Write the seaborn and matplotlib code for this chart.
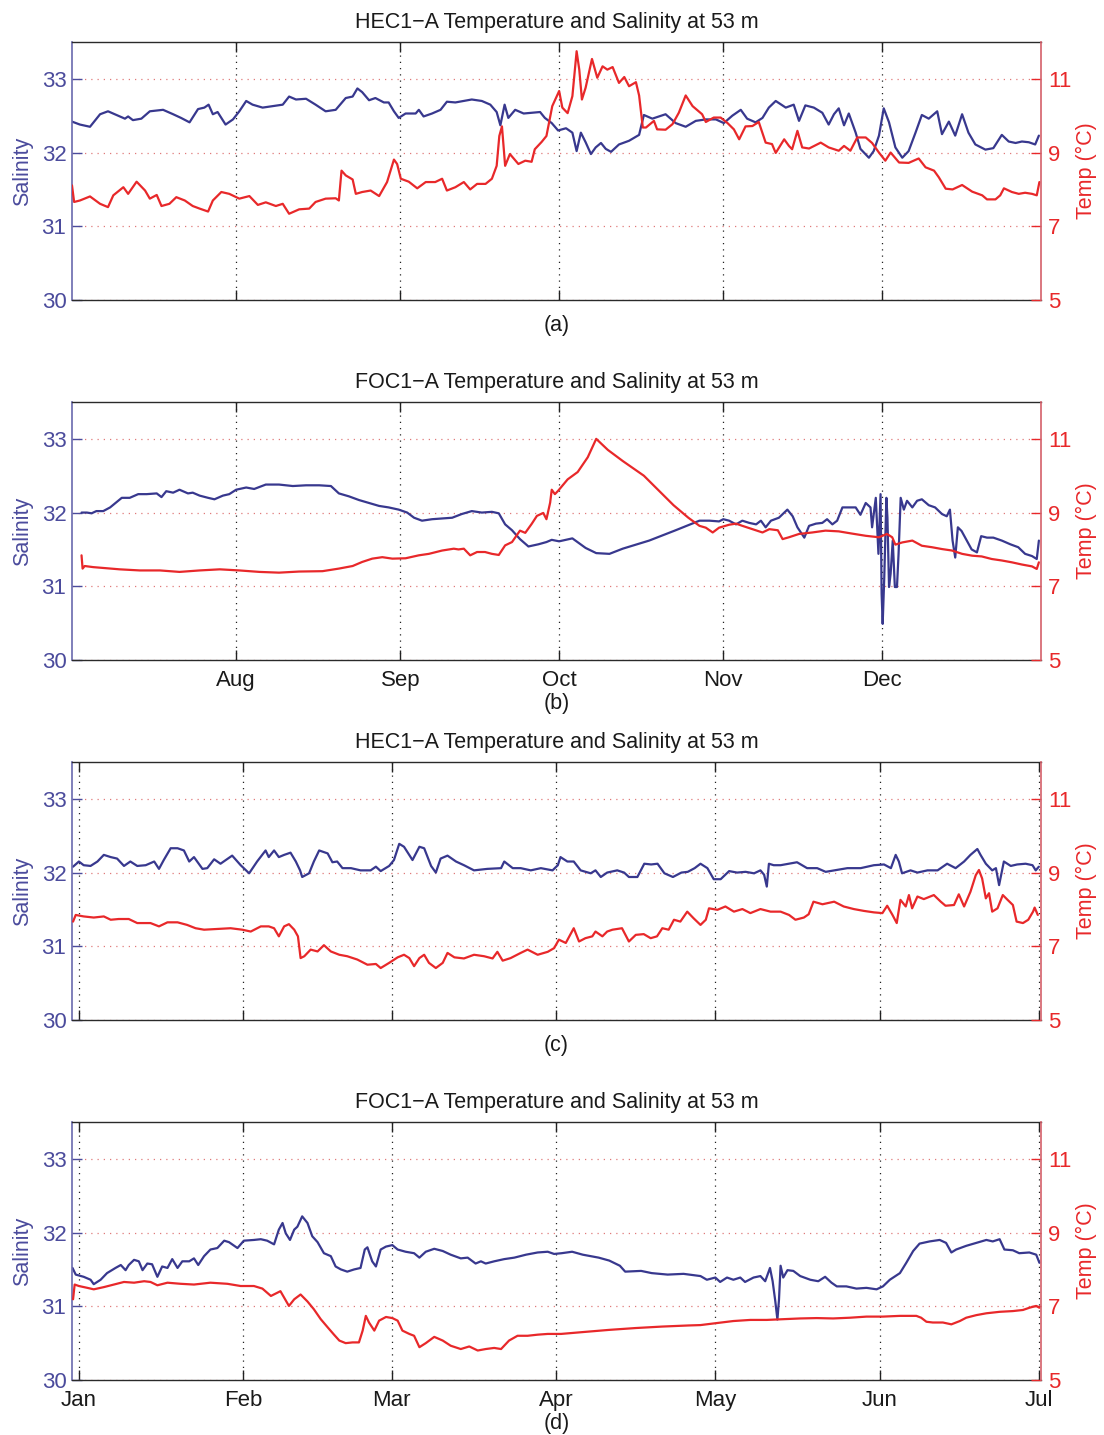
import numpy as np
import pandas as pd
import matplotlib
matplotlib.use("Agg")
import matplotlib.pyplot as plt
import matplotlib.dates as mdates
import seaborn as sns

# ---------------- data: (day offset, value) ----------------
# Panels (a),(b): day 0 = 1 Jul ; panels (c),(d): day 0 = 1 Jan
A_SAL = [(0,32.42),(1.5,32.38),(3.4,32.35),(5.3,32.52),(6.8,32.56),(8.4,32.51),(10,32.46),(10.6,32.49),(11.5,32.44),(13.1,32.46),(14.7,32.56),(17.2,32.58),(19.1,32.52),(20.6,32.47),(22.2,32.41),(23.8,32.59),(25,32.61),(25.8,32.65),(26.6,32.52),(27.5,32.55),(29,32.38),(30.4,32.45),(31.6,32.56),(32.9,32.70),(34.1,32.65),(36,32.61),(37.9,32.63),(39.8,32.65),(41,32.76),(42.3,32.72),(44.2,32.73),(46,32.65),(47.9,32.56),(49.8,32.58),(51.7,32.74),(53,32.76),(53.9,32.87),(54.8,32.82),(56.1,32.71),(57.3,32.74),(58.9,32.68),(59.8,32.68),(60.8,32.56),(61.7,32.47),(63,32.53),(64.9,32.53),(65.5,32.58),(66.4,32.49),(68,32.53),(69.6,32.58),(70.8,32.69),(72.4,32.68),(74,32.70),(75.5,32.72),(77.4,32.70),(79,32.65),(80.2,32.55),(80.9,32.37),(81.7,32.65),(82.4,32.47),(83.7,32.58),(85.3,32.53),(86.8,32.54),(88.4,32.55),(89.3,32.47),(90.6,32.40),(91.8,32.30),(93.3,32.33),(94.5,32.27),(95.3,32.02),(96.1,32.27),(97,32.14),(98,31.98),(98.9,32.07),(99.9,32.13),(100.8,32.05),(101.8,32.01),(103.3,32.11),(105.2,32.16),(107.1,32.24),(108,32.51),(109.6,32.46),(112.1,32.52),(114,32.40),(115.9,32.35),(117.8,32.43),(119.7,32.45),(121.6,32.45),(123.1,32.40),(124.7,32.50),(126.3,32.58),(127.5,32.46),(129.1,32.41),(130.4,32.47),(131.6,32.61),(132.9,32.70),(134.8,32.61),(136.3,32.65),(137.3,32.43),(138.5,32.64),(140.1,32.61),(141.7,32.54),(142.9,32.38),(143.9,32.52),(144.8,32.60),(145.8,32.37),(146.7,32.53),(148,32.27),(148.9,32.05),(150.5,31.93),(151.4,32.02),(152.4,32.23),(153.3,32.60),(154.3,32.41),(155.5,32.07),(156.8,31.93),(158,32.02),(159.3,32.27),(160.5,32.51),(161.8,32.46),(163.4,32.56),(164.3,32.25),(165.6,32.42),(166.8,32.23),(168.1,32.52),(169.3,32.27),(170.6,32.11),(172.5,32.04),(174,32.06),(175.6,32.24),(176.9,32.15),(178.2,32.13),(179.4,32.15),(180.7,32.14),(181.9,32.11),(182.6,32.23)]

A_TMP = [(0,8.11),(0.4,7.66),(1.5,7.70),(3.4,7.81),(5.3,7.61),(6.8,7.52),(7.8,7.84),(9.7,8.06),(10.6,7.88),(12.2,8.21),(13.8,7.97),(14.7,7.75),(16,7.85),(16.9,7.55),(18.4,7.61),(19.7,7.79),(21.3,7.70),(22.8,7.55),(24.1,7.48),(25.7,7.40),(26.6,7.70),(28.2,7.93),(29.7,7.88),(31.6,7.75),(33.5,7.82),(35.1,7.58),(36.6,7.65),(38.5,7.55),(39.8,7.61),(41,7.34),(42.9,7.46),(44.8,7.48),(46,7.66),(47.9,7.75),(49.8,7.76),(50.4,7.70),(50.9,8.51),(51.7,8.38),(53,8.27),(53.6,7.88),(54.8,7.93),(56.4,7.97),(58,7.82),(59.5,8.20),(60.8,8.81),(61.4,8.69),(62.1,8.29),(63.6,8.21),(65.2,8.03),(66.8,8.20),(68.6,8.20),(69.9,8.29),(70.8,7.97),(72.4,8.06),(74,8.20),(75.2,8.00),(76.5,8.15),(78.1,8.15),(79.3,8.29),(80.2,8.64),(80.7,9.45),(81.2,9.71),(81.8,8.64),(82.7,8.96),(84.3,8.69),(85.6,8.78),(86.8,8.75),(87.4,9.09),(88.7,9.29),(89.6,9.45),(90.7,10.26),(92,10.67),(92.6,10.22),(93.6,10.07),(94.5,10.53),(95.3,11.75),(95.8,11.25),(96.3,10.44),(97,10.76),(98.2,11.54),(99.2,11.03),(100.2,11.34),(101.1,11.25),(102.1,11.32),(103.3,10.89),(104.3,11.05),(105.2,10.80),(106.5,10.91),(107.1,10.55),(107.8,9.68),(108.4,9.68),(109.9,9.86),(110.5,9.63),(112.1,9.62),(113.4,9.77),(114.6,10.08),(115.9,10.55),(117.2,10.26),(119,10.04),(119.7,9.83),(121.2,9.95),(122.5,9.95),(123.8,9.80),(125,9.63),(126,9.36),(127.2,9.71),(128.5,9.72),(129.7,9.83),(131,9.27),(132.2,9.23),(132.9,8.99),(134.5,9.36),(135.4,9.18),(136,9.09),(137,9.59),(137.9,9.14),(139.2,9.11),(141.4,9.27),(142.9,9.14),(144.8,9.05),(145.8,9.18),(147,9.05),(148.3,9.41),(149.9,9.41),(151.1,9.26),(152.4,9.00),(153.6,8.78),(154.6,9.00),(156.2,8.73),(158,8.72),(159.9,8.84),(161.2,8.60),(162.8,8.51),(163.7,8.33),(165,8.02),(166.3,8.00),(168.1,8.12),(170,7.94),(171.9,7.84),(172.8,7.73),(174.4,7.73),(175.3,7.84),(176,8.03),(177.5,7.93),(178.8,7.88),(180,7.91),(181.3,7.88),(182.2,7.84),(182.7,8.20)]

B_SAL = [(1.8,32.00),(2.8,32.00),(3.7,31.99),(4.6,32.02),(5.9,32.02),(7.2,32.07),(8.4,32.14),(9.4,32.20),(10.9,32.20),(12.5,32.25),(14.1,32.25),(16,32.26),(16.9,32.21),(17.8,32.29),(19.1,32.27),(20.3,32.31),(21.9,32.26),(22.8,32.27),(24.1,32.23),(25.7,32.20),(26.9,32.18),(28.5,32.23),(29.7,32.25),(31,32.31),(32.9,32.34),(34.4,32.32),(36.6,32.38),(39.1,32.38),(41.7,32.36),(44.2,32.37),(46.7,32.37),(48.9,32.36),(50.4,32.26),(52.3,32.22),(54.2,32.17),(56.1,32.13),(58,32.09),(59.8,32.07),(61.7,32.04),(63.3,32.00),(64.6,31.93),(66.1,31.89),(68,31.91),(69.9,31.92),(71.8,31.93),(73.6,31.98),(75.5,32.02),(77.4,32.00),(79.3,32.01),(80.6,31.99),(81.8,31.84),(83.1,31.76),(84.6,31.64),(86.2,31.54),(88.1,31.57),(89.6,31.60),(90.6,31.63),(92,31.61),(94.5,31.65),(97,31.52),(99,31.45),(101.5,31.44),(104,31.51),(109,31.62),(114,31.76),(118.5,31.89),(120.4,31.89),(122.2,31.88),(123,31.91),(124.1,31.89),(125.4,31.84),(126.6,31.89),(127.9,31.86),(129.2,31.84),(130.1,31.89),(131,31.80),(132,31.89),(133.5,31.93),(135.1,32.04),(136.1,31.95),(137,31.80),(138.3,31.66),(139.2,31.82),(140.5,31.85),(141.7,31.86),(142.6,31.91),(143.6,31.84),(144.5,31.89),(145.5,32.07),(146.7,32.07),(148,32.07),(148.9,31.97),(149.9,32.13),(150.8,32.07),(151.1,31.80),(151.8,32.20),(152.3,31.44),(152.7,32.25),(152.9,30.90),(153.1,30.49),(153.4,31.12),(153.8,32.20),(154,31.93),(154.3,30.99),(154.6,31.17),(155,31.62),(155.4,30.99),(155.8,30.99),(156.1,31.44),(156.5,32.20),(157.1,32.04),(157.7,32.16),(158.7,32.07),(159.6,32.16),(160.5,32.18),(161.8,32.10),(163,32.07),(164.3,31.98),(165.2,31.95),(165.8,32.04),(166.3,31.62),(166.8,31.39),(167.3,31.80),(168,31.75),(169,31.62),(169.9,31.50),(170.9,31.46),(171.7,31.68),(172.8,31.66),(174,31.66),(175.6,31.62),(177.2,31.57),(178.7,31.53),(180,31.44),(181.3,31.41),(182.2,31.37),(182.6,31.62)]

B_TMP = [(1.8,7.84),(2.0,7.48),(2.4,7.55),(4,7.52),(6.5,7.49),(9,7.46),(12.8,7.43),(16.6,7.43),(20.3,7.39),(24.1,7.43),(27.9,7.46),(31.6,7.43),(35.4,7.39),(39.1,7.37),(42.9,7.40),(47.3,7.41),(50.4,7.48),(53,7.55),(54.8,7.66),(56.7,7.75),(58.6,7.79),(60.5,7.75),(63,7.76),(65.5,7.84),(67.4,7.88),(69.9,7.97),(72.1,8.02),(73,8.00),(74,8.02),(75.2,7.84),(76.5,7.93),(78,7.93),(79.3,7.88),(80.6,7.85),(81.8,8.11),(83.1,8.20),(84.6,8.51),(85.6,8.45),(86.8,8.69),(87.8,8.91),(89,8.99),(89.6,8.82),(90.3,9.27),(90.6,9.62),(91.2,9.50),(91.8,9.59),(93.6,9.9),(95.5,10.1),(97.4,10.5),(99,11.0),(101.2,10.7),(104,10.4),(108,10.0),(110.8,9.6),(113.6,9.2),(116.4,8.86),(118.5,8.64),(119.7,8.59),(121,8.46),(122.2,8.59),(124.1,8.67),(125.4,8.70),(126.6,8.64),(128.5,8.55),(130.4,8.46),(131.7,8.55),(133.3,8.52),(134.2,8.28),(135.4,8.33),(137.3,8.42),(139.8,8.46),(142.3,8.51),(144.8,8.49),(147.3,8.43),(149.9,8.37),(152.4,8.33),(153.9,8.42),(154.9,8.33),(155.5,8.13),(156.8,8.19),(158.7,8.24),(160.5,8.10),(162.4,8.06),(164.3,8.01),(166.2,7.97),(168.1,7.88),(170,7.83),(171.8,7.81),(173.7,7.74),(175.6,7.70),(177.5,7.65),(179.4,7.59),(181.3,7.54),(182.2,7.47),(182.6,7.65)]

C_SAL = [(-1.1,32.08),(0,32.15),(0.9,32.10),(2.2,32.09),(3.5,32.15),(4.7,32.24),(6,32.21),(7.2,32.19),(8.5,32.09),(9.7,32.15),(11,32.09),(12.6,32.10),(14.2,32.15),(15.1,32.05),(16,32.17),(17.3,32.33),(18.6,32.33),(19.8,32.30),(20.8,32.15),(21.7,32.21),(22.3,32.15),(23.3,32.05),(24.2,32.06),(25.5,32.18),(26.7,32.12),(28.9,32.23),(30.5,32.10),(32.1,31.99),(33.6,32.15),(35.2,32.30),(35.8,32.21),(36.8,32.30),(37.7,32.21),(38.7,32.24),(39.9,32.27),(40.9,32.15),(41.7,32.03),(42.1,31.94),(43.4,31.99),(44.3,32.15),(45.3,32.30),(46.9,32.26),(47.8,32.14),(48.7,32.15),(49.7,32.06),(51.3,32.06),(53.1,32.03),(55,32.03),(56,32.08),(56.9,32.02),(58.5,32.09),(59.4,32.17),(60.4,32.39),(61.3,32.35),(62.9,32.17),(64.2,32.35),(65.1,32.33),(66.4,32.09),(67.3,32.00),(68.2,32.19),(69.5,32.23),(71.1,32.15),(72.6,32.10),(74.5,32.03),(77,32.05),(79.6,32.06),(80.2,32.15),(81.8,32.06),(83.3,32.06),(85.2,32.03),(87.1,32.06),(89.3,32.03),(90.3,32.10),(90.8,32.21),(92.1,32.15),(93.3,32.15),(94.6,32.03),(96.5,31.99),(97.4,32.03),(98.4,31.94),(99.6,32.00),(101.5,32.03),(102.8,32.00),(103.7,31.94),(105.3,31.94),(106.6,32.12),(107.9,32.11),(109.1,32.12),(110.4,31.99),(112,31.94),(113.6,32.00),(114.8,32.01),(116.1,32.06),(117.2,32.12),(118.5,32.06),(119.7,31.91),(121,31.91),(122.6,32.02),(124.1,32.00),(125.7,32.01),(127.3,31.99),(128.5,32.03),(129.2,31.97),(129.7,31.81),(130.1,32.12),(131,32.10),(132.3,32.10),(133.9,32.12),(135.4,32.14),(137.3,32.06),(139.2,32.06),(140.8,32.01),(142.4,32.03),(144.9,32.06),(147.4,32.06),(149.9,32.10),(151.8,32.11),(153.1,32.06),(154,32.24),(154.6,32.15),(155.2,31.99),(156.8,32.03),(158.1,32.00),(160,32.03),(161.9,32.03),(163.7,32.12),(165.3,32.06),(166.9,32.15),(168.1,32.24),(169.4,32.32),(170,32.24),(171,32.12),(172.2,32.03),(172.9,32.06),(173.5,31.83),(174.4,32.15),(175.7,32.09),(176.9,32.11),(178.5,32.12),(179.8,32.10),(180.4,32.03),(181,32.08)]

C_TMP = [(-1.1,7.67),(-0.6,7.85),(0.9,7.81),(2.8,7.78),(4.7,7.81),(6,7.72),(7.5,7.74),(9.4,7.74),(11,7.63),(13.5,7.63),(15.1,7.54),(16.7,7.65),(18.6,7.65),(20.4,7.58),(22,7.49),(23.6,7.45),(26.1,7.47),(28.6,7.49),(30.8,7.45),(32.4,7.40),(34.3,7.54),(35.8,7.54),(36.8,7.49),(37.7,7.27),(38.7,7.54),(39.6,7.60),(40.6,7.45),(41.3,7.27),(41.8,6.68),(42.5,6.73),(43.7,6.91),(45,6.86),(46.2,7.03),(47.5,6.86),(49.1,6.77),(50.6,6.73),(52.5,6.64),(54.4,6.50),(56,6.52),(56.9,6.41),(58.5,6.55),(60.1,6.70),(61.3,6.77),(62.3,6.68),(63.2,6.46),(64.2,6.68),(65.1,6.77),(66,6.55),(67.3,6.41),(68.6,6.55),(69.5,6.82),(70.8,6.70),(72.6,6.67),(74.5,6.77),(76.4,6.73),(78,6.67),(78.9,6.85),(79.9,6.61),(81.4,6.68),(83.3,6.82),(84.6,6.91),(86.5,6.77),(88.4,6.85),(89.6,6.95),(90.5,7.18),(91.8,7.09),(93.3,7.49),(94.3,7.13),(95.5,7.22),(96.8,7.27),(97.4,7.40),(98.7,7.27),(99.6,7.40),(100.6,7.45),(102.4,7.49),(103.7,7.13),(105,7.31),(106.5,7.33),(107.8,7.22),(109,7.27),(110,7.49),(111.2,7.45),(112.2,7.72),(113.4,7.67),(114.7,7.94),(115.9,7.76),(117.2,7.58),(118.2,7.72),(118.8,8.03),(120.4,7.99),(121.9,8.08),(123.5,7.94),(125.1,8.01),(126.6,7.90),(128.5,8.01),(130.4,7.94),(132.3,7.94),(133.9,7.85),(135.1,7.72),(136.7,7.78),(137.6,7.87),(138.5,8.21),(140.2,8.14),(142.4,8.21),(144.2,8.08),(146.1,8.01),(148,7.96),(149.9,7.92),(151.5,7.90),(152.4,8.10),(153.4,7.85),(154.2,7.63),(154.9,8.26),(155.9,8.08),(156.5,8.39),(157.1,8.03),(158.1,8.35),(159.3,8.28),(161.2,8.39),(162.5,8.21),(163.4,8.10),(165,8.12),(165.9,8.41),(166.9,8.08),(168.1,8.48),(169.1,8.93),(169.7,9.07),(170.3,8.84),(171,8.30),(171.6,8.44),(172.2,7.94),(173.2,8.03),(174.2,8.39),(175.1,8.26),(176.1,8.12),(176.8,7.67),(178,7.63),(179,7.72),(179.9,7.94),(180.2,8.05),(180.8,7.85)]

D_SAL = [(-1.2,31.52),(-0.6,31.43),(0.9,31.40),(2.2,31.36),(2.8,31.30),(4.1,31.36),(5.3,31.45),(6.9,31.52),(7.9,31.56),(8.8,31.49),(9.4,31.56),(10.4,31.63),(11.3,31.61),(12,31.49),(12.9,31.58),(13.8,31.57),(14.8,31.40),(15.7,31.54),(16.7,31.52),(17.6,31.64),(18.6,31.52),(19.5,31.61),(20.8,31.61),(21.7,31.65),(22.5,31.56),(23.6,31.68),(24.8,31.77),(26.1,31.79),(27.4,31.89),(28.3,31.87),(29.9,31.79),(31.1,31.89),(33,31.90),(34.3,31.91),(35.5,31.89),(36.8,31.84),(37.7,32.04),(38.4,32.13),(39,31.99),(39.8,31.90),(40.6,32.04),(41.2,32.08),(42.1,32.22),(43.1,32.13),(44,31.95),(45,31.87),(46.2,31.72),(47.5,31.68),(48.4,31.54),(49.4,31.50),(50.6,31.47),(51.9,31.50),(53.1,31.52),(53.9,31.77),(54.4,31.80),(55.3,31.61),(56,31.54),(56.9,31.77),(57.9,31.81),(59.1,31.83),(60.1,31.77),(61.6,31.74),(63.2,31.72),(64.2,31.66),(65.4,31.74),(67,31.78),(68.6,31.75),(70.1,31.70),(72,31.65),(73.3,31.66),(74.8,31.58),(75.8,31.61),(76.7,31.58),(78.3,31.61),(80.2,31.64),(82.1,31.66),(84.3,31.70),(86.5,31.73),(88.4,31.74),(89.6,31.71),(91,31.72),(93,31.74),(95,31.70),(98,31.66),(100,31.62),(102,31.55),(103,31.47),(106,31.48),(108,31.45),(111,31.43),(114,31.44),(117.2,31.41),(118.4,31.36),(120,31.39),(120.9,31.33),(122.2,31.39),(123.4,31.36),(124.7,31.39),(125.6,31.33),(127.2,31.39),(128.5,31.41),(129.4,31.34),(130.3,31.52),(130.8,31.34),(131.3,31.07),(131.7,30.82),(132,31.09),(132.3,31.55),(132.8,31.39),(133.6,31.49),(134.7,31.48),(136,31.41),(137.9,31.36),(139.4,31.34),(140.7,31.40),(141.9,31.32),(142.9,31.27),(144.7,31.27),(146.6,31.24),(148.5,31.25),(150.4,31.23),(151.6,31.27),(152.9,31.36),(154.8,31.45),(156,31.59),(157.3,31.75),(158.5,31.85),(160.4,31.88),(162.3,31.90),(163.5,31.86),(164.5,31.73),(165.4,31.77),(167.3,31.82),(169.2,31.86),(171.1,31.90),(172.3,31.88),(173.6,31.91),(174.5,31.77),(176.1,31.76),(177.3,31.72),(179.2,31.73),(180.5,31.70),(181.1,31.59)]

D_TMP = [(-1.1,7.19),(-0.8,7.59),(0,7.55),(1.6,7.50),(2.8,7.46),(4.7,7.52),(6.6,7.59),(8.5,7.66),(10.4,7.64),(12.3,7.68),(13.5,7.66),(14.8,7.57),(16.7,7.64),(19.2,7.61),(21.7,7.59),(24.8,7.64),(28,7.61),(30.5,7.55),(33,7.55),(34.6,7.48),(36.2,7.28),(38,7.41),(39.6,7.01),(40.6,7.19),(41.8,7.32),(43.1,7.13),(44.3,6.92),(45.6,6.65),(46.9,6.43),(48.1,6.23),(49.1,6.07),(50.3,6.00),(51.6,6.02),(52.8,6.02),(53.5,6.34),(54.1,6.74),(54.7,6.56),(55.7,6.34),(56.6,6.61),(57.9,6.71),(59.1,6.68),(60.1,6.61),(61,6.34),(62.3,6.25),(63.2,6.20),(64.2,5.89),(65.4,6.00),(67,6.17),(68.6,6.07),(70.1,5.93),(72,5.84),(73.6,5.91),(75.2,5.80),(76.7,5.84),(78.3,5.87),(79.6,5.84),(81.1,6.07),(82.7,6.20),(84.6,6.20),(86.5,6.23),(88.4,6.25),(90.9,6.25),(95,6.30),(100,6.36),(105,6.41),(110,6.45),(115,6.48),(117.2,6.49),(120,6.54),(123.4,6.60),(126.6,6.63),(129.7,6.63),(132.8,6.65),(136,6.67),(139.1,6.68),(142.2,6.67),(145.4,6.69),(148.5,6.72),(151.6,6.72),(154.8,6.74),(157.9,6.74),(158.8,6.69),(159.8,6.58),(161,6.56),(162.9,6.56),(164.5,6.51),(166.1,6.60),(167.3,6.69),(169.2,6.76),(171.1,6.81),(173.6,6.85),(176.1,6.87),(178,6.90),(179.2,6.96),(180.5,7.01),(181.1,6.96)]

TITLES = ["HEC1\u2212A Temperature and Salinity at 53 m",
          "FOC1\u2212A Temperature and Salinity at 53 m",
          "HEC1\u2212A Temperature and Salinity at 53 m",
          "FOC1\u2212A Temperature and Salinity at 53 m"]
TAGS = ["(a)", "(b)", "(c)", "(d)"]
SAL_TICKS = [30, 31, 32, 33]
TMP_TICKS = [5, 7, 9, 11]
MONTHS_JUL_DEC = [8, 9, 10, 11, 12]
MONTHS_JAN_JUL = [1, 2, 3, 4, 5, 6, 7]

# ---------------- style ----------------
sns.set_style("white")
plt.rcParams["font.family"] = ["Liberation Sans", "DejaVu Sans"]

SAL_C = "#38388e"
SAL_TXT = "#4b4b9c"
TMP_C = "#e8282a"
RSPINE = "#d4606a"
FS_TICK = 16
FS_TEXT = 15.5

W, H = 1104, 1435
fig = plt.figure(figsize=(W / 100, H / 100), dpi=100)

left_px, right_px = 72, 1041
tops = [42, 402, 762, 1122]
ax_h = 258
tag_y = [326, 704, 1045, 1423]

panels = [
    (A_SAL, A_TMP, "2010-07-01", (0, 183), False, MONTHS_JUL_DEC),
    (B_SAL, B_TMP, "2010-07-01", (0, 183), True, MONTHS_JUL_DEC),
    (C_SAL, C_TMP, "2011-01-01", (-1.3, 181.4), False, MONTHS_JAN_JUL),
    (D_SAL, D_TMP, "2011-01-01", (-1.3, 181.4), True, MONTHS_JAN_JUL),
]

for i, (sal, tmp, base, xl, show_lbl, months) in enumerate(panels):
    top = tops[i]
    ax = fig.add_axes([left_px / W, 1 - (top + ax_h) / H,
                       (right_px - left_px) / W, ax_h / H])
    b = pd.Timestamp(base)
    ds = pd.DataFrame(sal, columns=["day", "v"])
    ds["date"] = b + pd.to_timedelta(ds["day"], unit="D")
    dt = pd.DataFrame(tmp, columns=["day", "v"])
    dt["date"] = b + pd.to_timedelta(dt["day"], unit="D")

    sns.lineplot(data=ds, x="date", y="v", ax=ax, color=SAL_C, lw=1.6,
                 estimator=None, sort=False, legend=False)
    ax2 = ax.twinx()
    sns.lineplot(data=dt, x="date", y="v", ax=ax2, color=TMP_C, lw=1.6,
                 estimator=None, sort=False, legend=False)

    x0 = b + pd.Timedelta(days=xl[0])
    x1 = b + pd.Timedelta(days=xl[1])
    ax.set_xlim(x0, x1)
    ax.set_ylim(30, 33.5)
    ax2.set_ylim(5, 12)
    ax.set_yticks(SAL_TICKS)
    ax2.set_yticks(TMP_TICKS)

    ax.xaxis.set_major_locator(mdates.MonthLocator(bymonth=months, bymonthday=1))
    ax.xaxis.set_major_formatter(mdates.DateFormatter("%b"))

    ax.grid(False)
    ax2.grid(False)
    ax.grid(axis="x", linestyle=(0, (1, 4)), color="#222222", lw=0.9)
    ax.grid(axis="y", linestyle=(0, (1, 4)), color="#e07a7a", lw=0.9)

    ax.tick_params(axis="x", direction="in", length=7, width=1, top=True,
                   bottom=True, labelbottom=show_lbl, labelsize=FS_TICK,
                   pad=7, color="#222222", labelcolor="#1a1a1a")
    ax.tick_params(axis="y", direction="in", length=7, width=1, left=True,
                   right=False, labelsize=FS_TICK, pad=4, color=SAL_TXT,
                   labelcolor=SAL_TXT)
    ax2.tick_params(axis="y", direction="in", length=7, width=1, right=True,
                    left=False, labelsize=FS_TICK, pad=5, color=TMP_C,
                    labelcolor=TMP_C)

    for s in ("top", "bottom"):
        ax.spines[s].set_color("#2a2a2a")
        ax.spines[s].set_linewidth(1.0)
        ax2.spines[s].set_visible(False)
    ax.spines["left"].set_color("#6a6aae")
    ax.spines["left"].set_linewidth(1.2)
    ax.spines["right"].set_visible(False)
    ax2.spines["left"].set_visible(False)
    ax2.spines["right"].set_color(RSPINE)
    ax2.spines["right"].set_linewidth(1.2)

    ax.set_xlabel("")
    ax.set_ylabel("Salinity", fontsize=FS_TEXT, color=SAL_TXT)
    ax.yaxis.set_label_coords((33 - left_px) / (right_px - left_px), 0.5)
    ax2.set_xlabel("")
    ax2.set_ylabel("Temp (\u00b0C)", fontsize=FS_TEXT, color=TMP_C)
    ax2.yaxis.set_label_coords((1076 - left_px) / (right_px - left_px), 0.5)

    ax.set_title(TITLES[i], fontsize=FS_TEXT, pad=10, color="#1a1a1a")
    ax.text(0.5, (top + ax_h - tag_y[i]) / ax_h, TAGS[i],
            transform=ax.transAxes, ha="center", va="center",
            fontsize=FS_TEXT, color="#1a1a1a")

fig.savefig("out.png", dpi=100)
